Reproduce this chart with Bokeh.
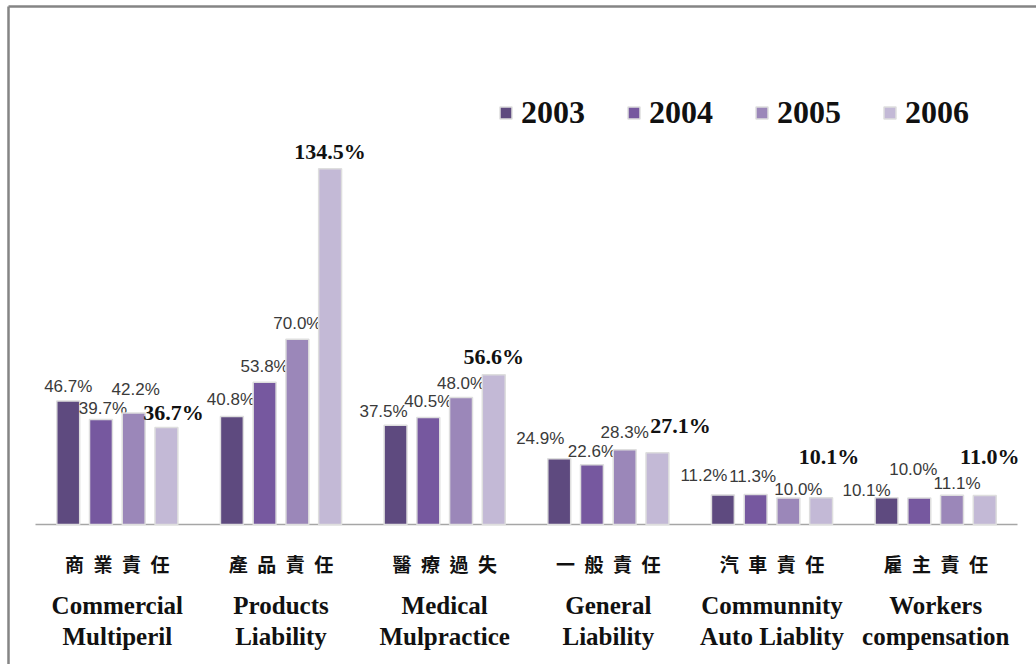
from bokeh.plotting import figure
from bokeh.models import ColumnDataSource, Range1d, Legend, LegendItem
from bokeh.core.properties import value
from bokeh.embed import file_html
from bokeh.resources import INLINE

# --- data -------------------------------------------------------------
categories_zh = ["商\u2002業\u2002責\u2002任", "產\u2002品\u2002責\u2002任", "醫\u2002療\u2002過\u2002失",
                 "一\u2002般\u2002責\u2002任", "汽\u2002車\u2002責\u2002任", "雇\u2002主\u2002責\u2002任"]
categories_en = ["Commercial\nMultiperil", "Products\nLiability", "Medical\nMulpractice",
                 "General\nLiability", "Communnity\nAuto Liablity", "Workers\ncompensation"]
years = ["2003", "2004", "2005", "2006"]
rate_2003 = [46.7, 40.8, 37.5, 24.9, 11.2, 10.1]
rate_2004 = [39.7, 53.8, 40.5, 22.6, 11.3, 10.0]
rate_2005 = [42.2, 70.0, 48.0, 28.3, 10.0, 11.1]
rate_2006 = [36.7, 134.5, 56.6, 27.1, 10.1, 11.0]
series = [rate_2003, rate_2004, rate_2005, rate_2006]
colors = ["#5e4a7f", "#76589f", "#9b87b9", "#c3b9d6"]

# value-label nudges in pixels (sideways shift, lift above bar top),
# so neighbouring labels don't collide
label_dx = [[0, -1, -12, -19, -19, -20],
            [2, 0, 0, 0, -3, -6],
            [2, 0, 0, 0, 10, 5],
            [7, 0, 0, 23, 8, 5]]
label_lift = [[14, 17, 14, 20, 19, 7],
              [11, 16, 16, 13, 18, 29],
              [23, 16, 14, 17, 9, 12],
              [15, 17, 18, 27, 41, 39]]

# --- layout -----------------------------------------------------------
W, H = 1036, 664
left_px, right_px = 35, 1017          # extent of the category band
base_px = 524                         # pixel row of the zero line
px_per_unit_y = 2.645
n = len(categories_en)
sx = (right_px - left_px) / n
x_start = -0.5 - left_px / sx
x_end = n - 0.5 + (W - right_px) / sx
y_end = base_px / px_per_unit_y
y_start = -(H - base_px) / px_per_unit_y

p = figure(width=W, height=H, output_backend="svg", toolbar_location=None,
           x_range=Range1d(x_start, x_end), y_range=Range1d(y_start, y_end),
           x_axis_type=None, y_axis_type=None, min_border=0,
           outline_line_color=None, background_fill_color="white",
           border_fill_color="white")

# pixel-space ranges for the frame decoration
p.extra_x_ranges = {"px": Range1d(0, W)}
p.extra_y_ranges = {"px": Range1d(H, 0)}
p.segment(x0=[8, 8], y0=[6, 6], x1=[8, W], y1=[H, 6], line_color="#858585",
          line_width=2.5, x_range_name="px", y_range_name="px")

idx = list(range(n))
# zero line across the category band
p.segment(x0=[-0.5], y0=[0], x1=[n - 0.5], y1=[0], line_color="#a6a6a6", line_width=1.5)

offsets = [-0.3, -0.1, 0.1, 0.3]
bar_w = 0.14
items = []
for k, (yr, vals, col, off) in enumerate(zip(years, series, colors, offsets)):
    src = ColumnDataSource(dict(x=[i + off for i in idx], top=vals,
                                label=[f"{v:.1f}%" for v in vals],
                                dx=label_dx[k], dy=[-d for d in label_lift[k]]))
    r = p.vbar(x="x", top="top", width=bar_w, source=src, fill_color=col,
               line_color="#dedede", line_width=1.5)
    items.append(LegendItem(label=yr, renderers=[r]))
    if yr == "2006":
        p.text(x="x", y="top", text="label", source=src, text_align="center",
               text_baseline="alphabetic", x_offset="dx", y_offset="dy",
               text_font=value("Liberation Serif"), text_font_style="bold",
               text_font_size=value("22px"), text_color="#111111")
    else:
        p.text(x="x", y="top", text="label", source=src, text_align="center",
               text_baseline="alphabetic", x_offset="dx", y_offset="dy",
               text_font=value("Liberation Sans"),
               text_font_size=value("17px"), text_color="#3a3a3a")

# category names under the zero line
en1 = [c.split("\n")[0] for c in categories_en]
en2 = [c.split("\n")[1] for c in categories_en]
cat_src = ColumnDataSource(dict(x=idx, y=[0] * n, zh=categories_zh, en1=en1, en2=en2))
p.text(x="x", y="y", text="zh", source=cat_src, text_align="center",
       text_baseline="middle", y_offset=39,
       text_font=value("Noto Sans CJK TC"), text_font_style="bold",
       text_font_size=value("19px"), text_color="#111111")
for col_name, off in (("en1", 81), ("en2", 112)):
    p.text(x="x", y="y", text=col_name, source=cat_src, text_align="center",
           text_baseline="alphabetic", y_offset=off,
           text_font=value("Liberation Serif"), text_font_style="bold",
           text_font_size=value("25px"), text_color="#111111")

legend = Legend(items=items, orientation="horizontal", location=(498, 533),
                label_text_font="Liberation Serif", label_text_font_style="bold",
                label_text_font_size="32px", label_text_color="#111111",
                glyph_width=15, glyph_height=15, label_standoff=8, spacing=41,
                padding=0, margin=0, border_line_color=None,
                background_fill_alpha=0)
p.add_layout(legend)

open("out.html", "w").write(file_html(p, INLINE))
